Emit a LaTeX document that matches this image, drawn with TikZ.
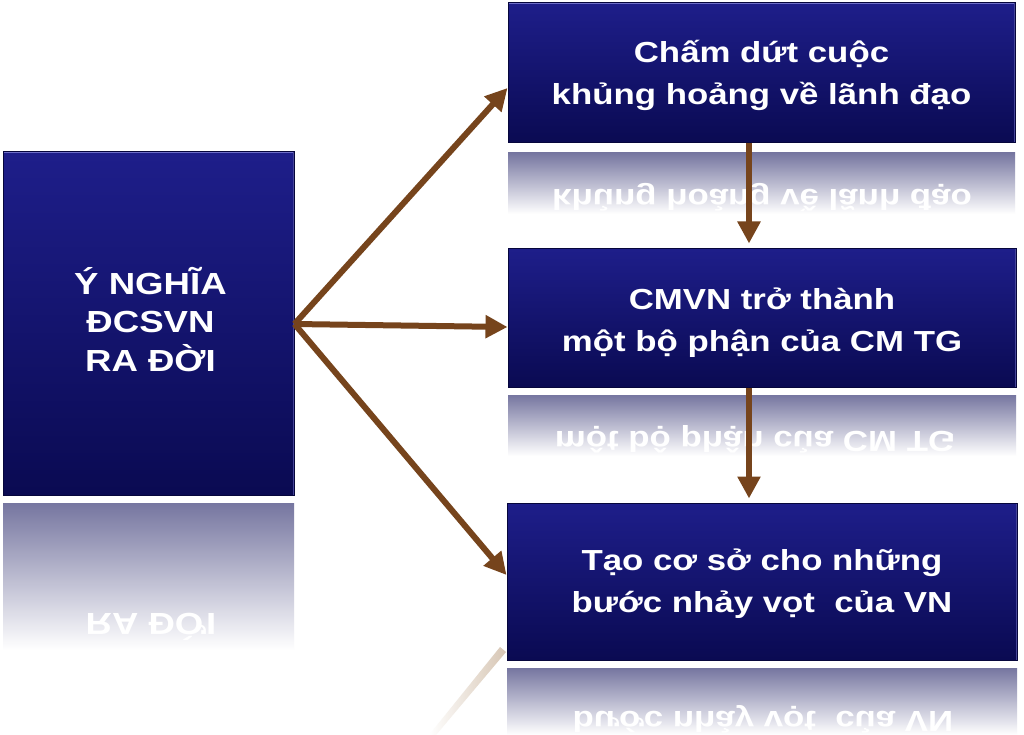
\documentclass[tikz,border=0pt]{standalone}
\usepackage{fontspec}
\setmainfont{Liberation Sans}[FakeStretch=1.2]
\usepackage{graphicx}
\usetikzlibrary{arrows.meta,calc}
\definecolor{navyT}{RGB}{30,30,138}
\definecolor{navyB}{RGB}{10,10,82}
\definecolor{navyEdge}{RGB}{6,6,60}
\definecolor{bevel}{RGB}{110,110,200}
\definecolor{arrowbrown}{RGB}{118,68,28}
\definecolor{reflT}{RGB}{118,118,160}
\definecolor{arrowghost}{RGB}{215,198,180}
\begin{document}
\begin{tikzpicture}[x=1pt,y=-1pt,
  boxnode/.style={draw=navyEdge, line width=1pt, top color=navyT, bottom color=navyB,
    inner sep=0pt,
    path picture={
      \draw[bevel, line width=2pt] (path picture bounding box.north west) -- (path picture bounding box.north east);
      \draw[bevel!60!navyB, line width=1.5pt] (path picture bounding box.north west) -- (path picture bounding box.south west);
      \draw[bevel!60!navyB, line width=1.5pt] (path picture bounding box.north east) -- (path picture bounding box.south east);
    }},
  boxtext/.style={text=white, align=center, inner sep=0pt, font=\fontsize{29}{42}\selectfont\bfseries},
  lefttext/.style={text=white, align=center, inner sep=0pt, font=\fontsize{30.5}{38.5}\selectfont\bfseries},
  mirrortext/.style={text=white, inner sep=0pt, anchor=base, font=\fontsize{29}{42}\selectfont\bfseries},
  link/.style={draw=arrowbrown, line width=6pt, -{Triangle[length=22pt,width=22pt]}},
  reflection/.style={top color=reflT, bottom color=white}
]
\useasboundingbox (0,0) rectangle (1024,735);
\fill[white] (0,0) rectangle (1024,735);

% reflections
\begin{scope}
  \clip (3,503) rectangle (294,650);
  \shade[reflection] (3,503) rectangle (294,650);
  \node[mirrortext, font=\fontsize{30.5}{38.5}\selectfont\bfseries] (Lr) at (151,613) {\scalebox{1}[-1]{RA ĐỜI}};
\end{scope}
\begin{scope}
  \clip (508,153) rectangle (1015,214);
  \shade[reflection] (508,153) rectangle (1015,214);
  \node[mirrortext] (Tr) at (762,190) {\scalebox{1}[-1]{khủng hoảng về lãnh đạo}};
\end{scope}
\begin{scope}
  \clip (508,395) rectangle (1016,456);
  \shade[reflection] (508,395) rectangle (1016,456);
  \node[mirrortext] (Mr) at (755,431) {\scalebox{1}[-1]{một bộ phận của CM TG}};
\end{scope}
\begin{scope}
  \clip (507,668) rectangle (1017,735);
  \shade[reflection] (507,668) rectangle (1017,735);
  \node[mirrortext] (Br) at (763,711) {\scalebox{1}[-1]{bước nhảy vọt\ \ của VN}};
\end{scope}
% faint reflection of the lower arrow
\shade[left color=white, right color=arrowghost] (429,735) -- (436,735) -- (506,652) -- (500,647) -- cycle;

% boxes
\node[boxnode, minimum width=291pt, minimum height=343pt] (L) at (148.5,323.5) {};
\node[boxnode, minimum width=507pt, minimum height=140pt] (T) at (761.5,73) {};
\node[boxnode, minimum width=508pt, minimum height=139pt] (M) at (762,317.5) {};
\node[boxnode, minimum width=510pt, minimum height=157pt] (B) at (762,581.5) {};

% texts
\node[lefttext] (Lt) at ([xshift=2pt,yshift=4pt]L.center) {Ý NGHĨA\\ĐCSVN\\RA ĐỜI};
\node[boxtext] (Tt) at ([yshift=-2pt]T.center) {Chấm dứt cuộc\\khủng hoảng về lãnh đạo};
\node[boxtext] (Mt) at ([yshift=-5.5pt]M.center) {CMVN trở thành\\một bộ phận của CM TG};
\node[boxtext] (Bt) at ([yshift=-2.5pt]B.center) {Tạo cơ sở cho những\\bước nhảy vọt\ \ của VN};

% connectors
\coordinate (hub) at ([yshift=-0.5pt]L.east);
\coordinate (vx) at (749,0);
\draw[link] (hub) -- ([yshift=-15pt]T.west);
\draw[link] (hub) -- ([yshift=-9.5pt]M.west);
\draw[link] (hub) -- ([yshift=6.5pt]B.west);
\draw[link, shorten >=4pt] (T.south -| vx) -- (M.north -| vx);
\draw[link, shorten >=4pt] (M.south -| vx) -- (B.north -| vx);
\end{tikzpicture}
\end{document}
